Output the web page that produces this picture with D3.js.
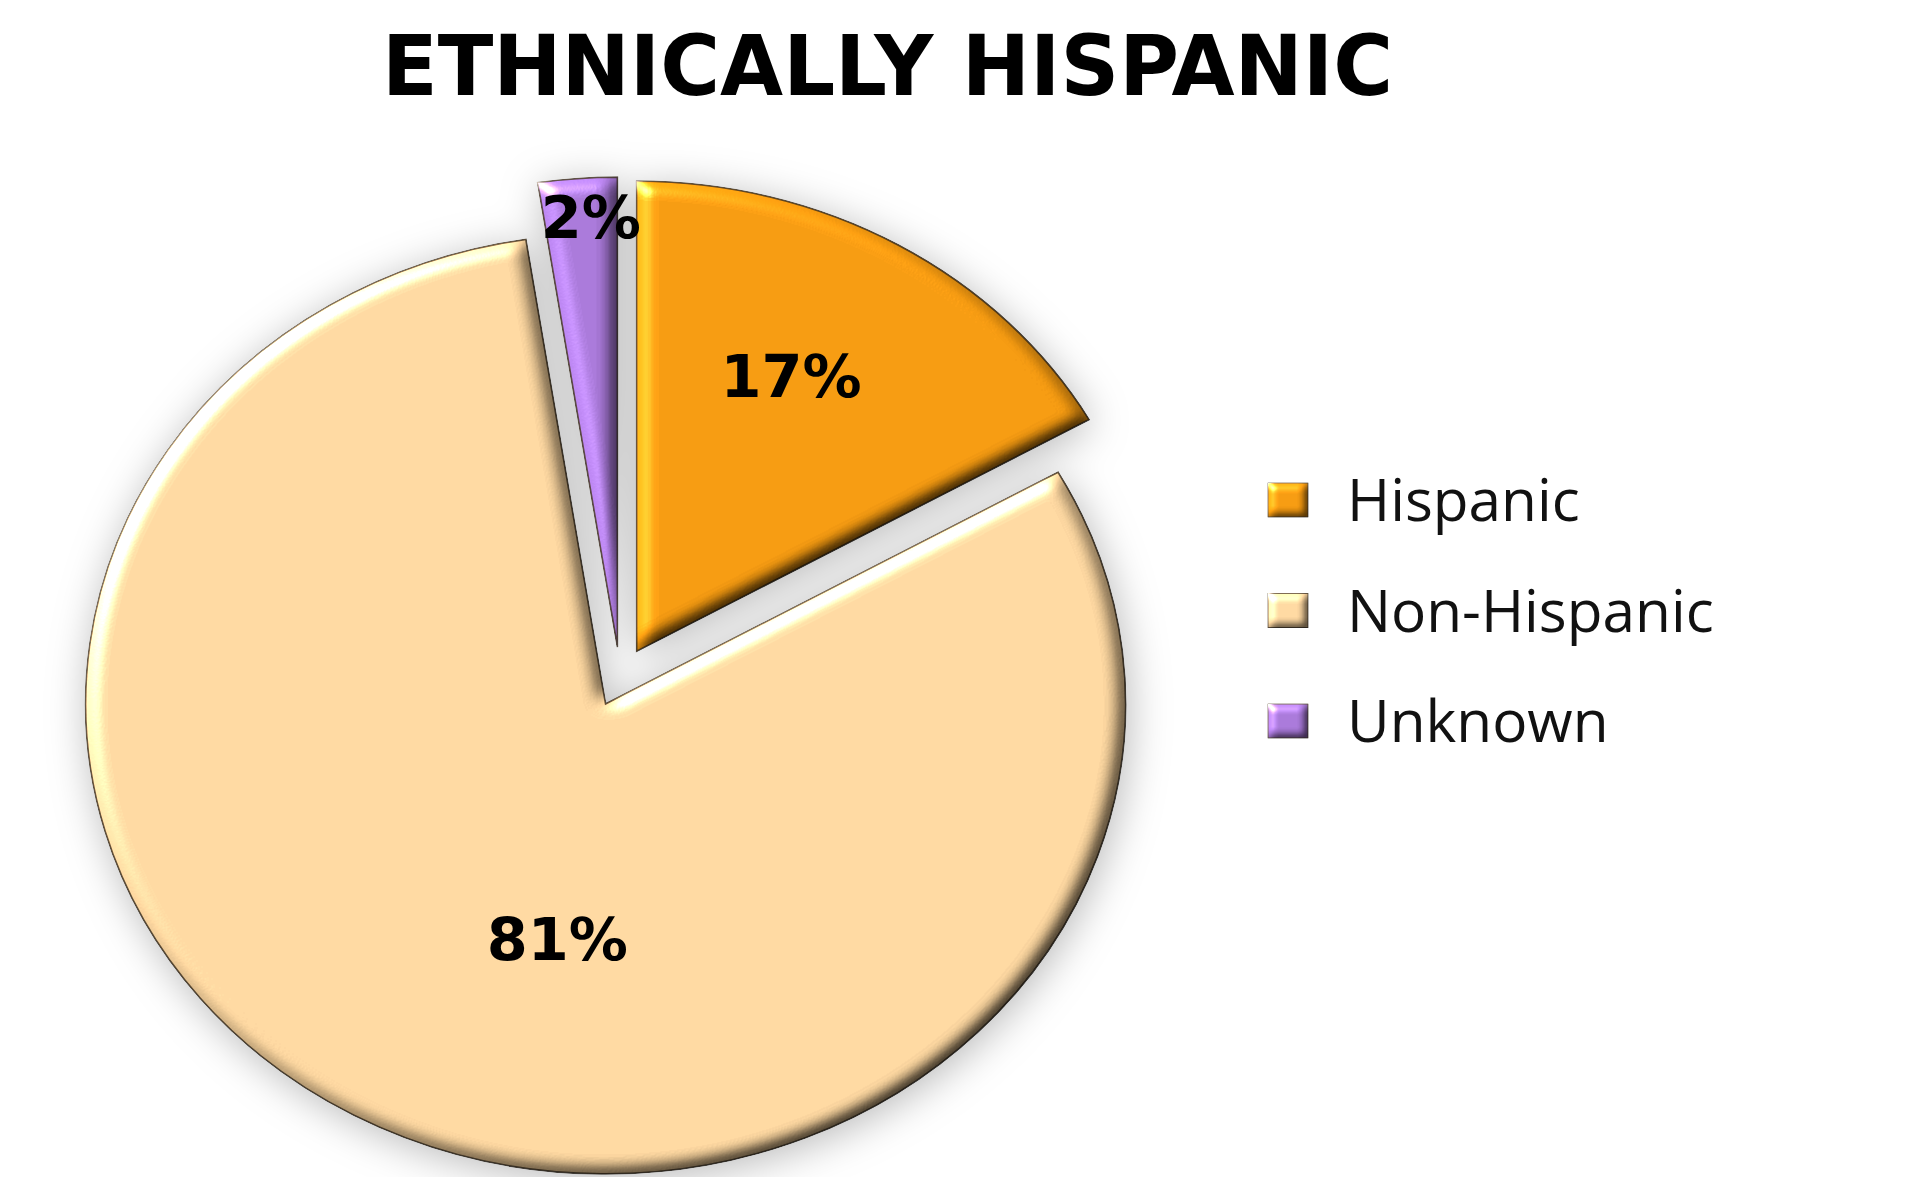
<!DOCTYPE html>
<html><head><meta charset="utf-8">
<script src="https://cdn.jsdelivr.net/npm/d3@7"></script>
<style>
html,body{margin:0;padding:0;background:#fff;}
svg{display:block;}
</style></head>
<body>
<svg id="chart" width="1912" height="1177"></svg>
<script>
// ---- data ----
const title = "ETHNICALLY HISPANIC";
const categories = ["Hispanic", "Non-Hispanic", "Unknown"];
const values = [16.8, 80.75, 2.45];
const valueLabels = ["17%", "81%", "2%"];
const colors = ["#F59A10", "#FDD7A0", "#A878D8"];

// ---- layout ----
const W = 1912, H = 1177;
const cx = 620, cy = 677, R = 520, yScale = 0.904, explode = 33;
const labelPlace = [{f:0.657, da:-3.35}, {f:0.509, da:-15.3}, {f:0.917, da:1.2}];

const svg = d3.select("#chart");
const defs = svg.append("defs");

// drop shadow
const sh = defs.append("filter").attr("id","shadow").attr("x","-20%").attr("y","-20%").attr("width","140%").attr("height","140%")
  .attr("color-interpolation-filters","sRGB");
sh.append("feGaussianBlur").attr("in","SourceAlpha").attr("stdDeviation",20).attr("result","b");
sh.append("feOffset").attr("in","b").attr("dx",3).attr("dy",6).attr("result","o");
sh.append("feFlood").attr("flood-color","#000").attr("flood-opacity",0.27).attr("result","c");
sh.append("feComposite").attr("in","c").attr("in2","o").attr("operator","in").attr("result","s");
const shm = sh.append("feMerge");
shm.append("feMergeNode").attr("in","s");
shm.append("feMergeNode").attr("in","SourceGraphic");

function makeBevel(id, blur, surf){
  const f = defs.append("filter").attr("id",id).attr("x","-5%").attr("y","-5%").attr("width","110%").attr("height","110%")
    .attr("color-interpolation-filters","sRGB");
  f.append("feGaussianBlur").attr("in","SourceAlpha").attr("stdDeviation",blur).attr("result","blur");
  const d = f.append("feDiffuseLighting").attr("in","blur").attr("surfaceScale",surf).attr("diffuseConstant",1).attr("lighting-color","#fff").attr("result","diff");
  d.append("feDistantLight").attr("azimuth",225).attr("elevation",50);
  f.append("feComposite").attr("in","SourceGraphic").attr("in2","diff").attr("operator","arithmetic")
    .attr("k1",1.305).attr("k2",0).attr("k3",0).attr("k4",0).attr("result","lit");
  const s = f.append("feSpecularLighting").attr("in","blur").attr("surfaceScale",surf).attr("specularConstant",0.8)
    .attr("specularExponent",40).attr("lighting-color","#ffffff").attr("result","spec");
  s.append("feDistantLight").attr("azimuth",225).attr("elevation",40);
  f.append("feComposite").attr("in","spec").attr("in2","SourceAlpha").attr("operator","in").attr("result","specIn");
  f.append("feComposite").attr("in","lit").attr("in2","specIn").attr("operator","arithmetic")
    .attr("k1",0).attr("k2",1).attr("k3",0.8).attr("k4",0).attr("result","out");
  f.append("feComposite").attr("in","out").attr("in2","SourceAlpha").attr("operator","in");
}
makeBevel("bevel", 9, 8);
makeBevel("bevelSmall", 4, 4);

// ---- pie ----
const pie = d3.pie().sort(null).value(d => d)(values);
const arc = d3.arc().innerRadius(0).outerRadius(R);
const offArc = d3.arc().innerRadius(explode).outerRadius(explode);

const g = svg.append("g").attr("filter","url(#shadow)")
  .append("g").attr("transform",`translate(${cx},${cy}) scale(1,${yScale})`);

g.selectAll("path.slice").data(pie).join("path")
  .attr("class","slice")
  .attr("transform", d => `translate(${offArc.centroid(d)})`)
  .attr("d", arc)
  .attr("fill", (d,i) => colors[i])
  .attr("stroke","#3d2e1a").attr("stroke-opacity",0.8).attr("stroke-width",1.8)
  .attr("vector-effect","non-scaling-stroke")
  .attr("filter","url(#bevel)");

// ---- value labels ----
svg.append("g").selectAll("text").data(pie).join("text")
  .attr("x", (d,i) => {
    const o = offArc.centroid(d);
    const a = (d.startAngle + d.endAngle)/2 + labelPlace[i].da*Math.PI/180;
    return cx + o[0] + Math.sin(a)*R*labelPlace[i].f;
  })
  .attr("y", (d,i) => {
    const o = offArc.centroid(d);
    const a = (d.startAngle + d.endAngle)/2 + labelPlace[i].da*Math.PI/180;
    return cy + (o[1] - Math.cos(a)*R*labelPlace[i].f)*yScale;
  })
  .attr("dy","0.36em")
  .attr("text-anchor","middle")
  .attr("font-family","'DejaVu Sans', Verdana, sans-serif")
  .attr("font-weight","bold")
  .attr("font-size",59)
  .attr("fill","#000")
  .text((d,i) => valueLabels[i]);

// ---- title ----
svg.append("text")
  .attr("x", 887.5).attr("y", 95)
  .attr("text-anchor","middle")
  .attr("font-family","'DejaVu Sans', Verdana, sans-serif")
  .attr("font-weight","bold").attr("font-size",84)
  .attr("textLength",1011).attr("lengthAdjust","spacingAndGlyphs")
  .attr("fill","#000")
  .text(title);

// ---- legend ----
const ly = d3.scalePoint().domain(categories).range([500, 721]);
const leg = svg.append("g").selectAll("g").data(categories).join("g")
  .attr("transform", d => `translate(1268,${ly(d)})`);
leg.append("rect").attr("x",0).attr("y",-17).attr("width",40).attr("height",34)
  .attr("fill",(d,i)=>colors[i]).attr("stroke","#6b5a45").attr("stroke-width",1)
  .attr("filter","url(#bevelSmall)");
leg.append("text").attr("x",79).attr("y",21)
  .attr("font-family","'Open Sans', 'Noto Sans', sans-serif")
  .attr("font-size",58.5).attr("fill","#111")
  .text(d => d);
</script>
</body></html>
